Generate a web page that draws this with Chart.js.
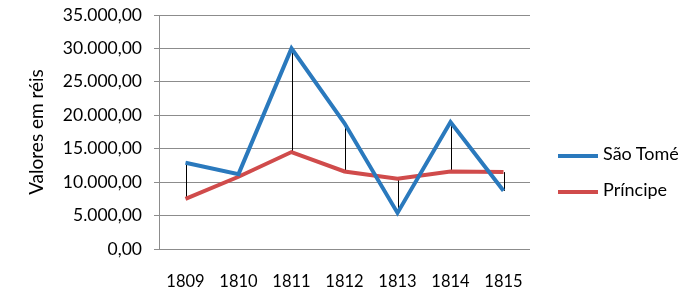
<!DOCTYPE html>
<html lang="pt-br">
<head>
<meta charset="UTF-8">
<title>Valores em réis</title>
<script src="https://cdn.jsdelivr.net/npm/chart.js"></script>
<style>
  body { margin: 0; background: #fff; }
  .wrap { position: relative; width: 700px; height: 287px; }
  #legenda { position: absolute; left: 558px; top: 142px; font-family: Lato, "Open Sans", sans-serif; font-size: 18px; color: #000; }
  #legenda div { height: 36px; display: flex; align-items: flex-start; }
  #legenda span.linha { display: inline-block; width: 40px; height: 4px; margin-top: 12px; margin-right: 5px; }
</style>
</head>
<body>
<div class="wrap">
  <canvas id="myChart" width="700" height="287"></canvas>
  <div id="legenda"></div>
</div>

<script>
  // dados
  var anos = ['1809', '1810', '1811', '1812', '1813', '1814', '1815'];
  var saoTome = [12900, 11200, 30000, 18800, 5400, 19000, 8700];
  var principe = [7500, 10800, 14500, 11600, 10500, 11600, 11500];
  var nomes = ['São Tomé', 'Príncipe'];
  var cores = ['#2a79bd', '#d04b4b'];

  function formatar(v) {
    var inteiro = Math.round(v).toString().replace(/\B(?=(\d{3})+(?!\d))/g, '.');
    return inteiro + ',00';
  }

  // linhas verticais entre as duas séries (alta-baixa)
  var linhasAltaBaixa = {
    id: 'altaBaixa',
    beforeDatasetsDraw: function (chart) {
      var ctx = chart.ctx;
      var x = chart.scales.x, y = chart.scales.y;
      ctx.save();
      ctx.strokeStyle = '#000';
      ctx.lineWidth = 1;
      for (var i = 0; i < anos.length; i++) {
        var px = Math.round(x.getPixelForValue(i)) + 0.5;
        ctx.beginPath();
        ctx.moveTo(px, y.getPixelForValue(saoTome[i]));
        ctx.lineTo(px, y.getPixelForValue(principe[i]));
        ctx.stroke();
      }
      ctx.restore();
    }
  };

  Chart.defaults.font.family = 'Lato, "Open Sans", sans-serif';
  Chart.defaults.color = '#000';

  var myChart = new Chart(document.getElementById('myChart'), {
    type: 'line',
    data: {
      labels: anos,
      datasets: [
        { label: nomes[0], data: saoTome, borderColor: cores[0], backgroundColor: cores[0], borderWidth: 4, pointRadius: 0, tension: 0 },
        { label: nomes[1], data: principe, borderColor: cores[1], backgroundColor: cores[1], borderWidth: 4, pointRadius: 0, tension: 0 }
      ]
    },
    options: {
      responsive: false,
      animation: false,
      layout: { autoPadding: false, padding: { top: 15, right: 170, left: 0, bottom: 0 } },
      plugins: { legend: { display: false }, tooltip: { enabled: false } },
      scales: {
        x: {
          offset: true,
          grid: { display: false, drawTicks: false },
          border: { display: false },
          ticks: { font: { size: 16.5 }, padding: 23 },
          afterFit: function (s) { s.height = 38; }
        },
        y: {
          min: 0,
          max: 35000,
          ticks: { stepSize: 5000, font: { size: 17.5 }, padding: 12, callback: function (v) { return formatar(v); } },
          grid: { color: '#8c8c8c', lineWidth: 1, tickLength: 5 },
          border: { color: '#8c8c8c' },
          title: { display: true, text: 'Valores em réis', font: { size: 19 }, padding: { top: 25, bottom: 0 } },
          afterFit: function (s) { s.width = 159; s.paddingTop = 0; s.paddingBottom = 0; }
        }
      }
    },
    plugins: [linhasAltaBaixa]
  });

  var legenda = document.getElementById('legenda');
  nomes.forEach(function (n, i) {
    var d = document.createElement('div');
    d.innerHTML = '<span class="linha" style="background:' + cores[i] + '"></span>' + n;
    legenda.appendChild(d);
  });
</script>
</body>
</html>
